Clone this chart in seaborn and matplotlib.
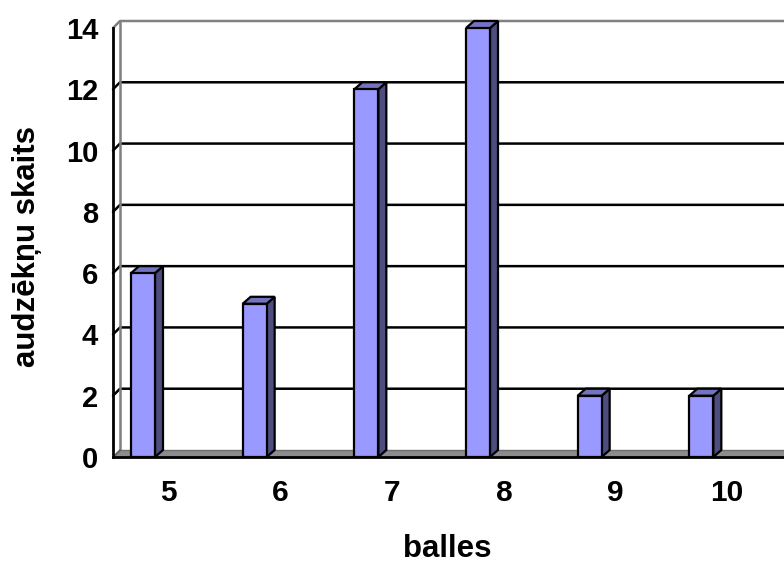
import matplotlib
matplotlib.use("Agg")
import matplotlib.pyplot as plt
from matplotlib.patches import Polygon
from matplotlib.lines import Line2D
import seaborn as sns
import pandas as pd

# ---- data ----
categories = ["5", "6", "7", "8", "9", "10"]
counts = [6, 5, 12, 14, 2, 2]
y_ticks = [0, 2, 4, 6, 8, 10, 12, 14]
x_label = "balles"
y_label = "audzēkņu skaits"

sns.set_style("white")
plt.rcParams['font.family'] = ['Liberation Sans', 'DejaVu Sans']
plt.rcParams['text.color'] = 'black'
plt.rcParams['axes.labelcolor'] = 'black'
plt.rcParams['xtick.color'] = 'black'
plt.rcParams['ytick.color'] = 'black'

FRONT = "#9999FF"
SIDE = "#4D4D80"
TOP = "#7373BF"

W, H = 784, 565
fig = plt.figure(figsize=(W / 100, H / 100), dpi=100)
ax_l, ax_r, ax_t, ax_b = 113, 783, 28, 457
ax = fig.add_axes([ax_l / W, (H - ax_b) / H, (ax_r - ax_l) / W, (ax_b - ax_t) / H])

n = len(categories)
ymax = y_ticks[-1]
px_x = (ax_r - ax_l) / n          # pixels per x data unit
px_y = (ax_b - ax_t) / ymax       # pixels per y data unit

# depth offsets (pixels -> data units)
wdx, wdy = 7 / px_x, 7 / px_y     # walls
bdx, bdy = 8 / px_x, 7 / px_y     # bars

df = pd.DataFrame({"balles": categories, "count": counts})
sns.barplot(data=df, x="balles", y="count", color=FRONT, saturation=1,
            width=24 / px_x, edgecolor="black", linewidth=1.6, ax=ax, zorder=6)

shift = (30 - px_x / 2) / px_x
x0, x1 = -0.5, n - 0.5
ax.set_xlim(x0, x1)
ax.set_ylim(0, ymax)

# floor
floor = Polygon([(x0, 0), (x1 + wdx, 0), (x1 + wdx, wdy), (x0 + wdx, wdy)],
                closed=True, facecolor="#8C8C8C", edgecolor="#707070",
                linewidth=1.0, zorder=2, clip_on=False)
ax.add_patch(floor)

# back wall grid lines
for v in y_ticks[1:]:
    col = "#808080" if v == ymax else "black"
    ax.add_line(Line2D([x0, x0 + wdx, x1 + 2 * wdx], [v, v + wdy, v + wdy],
                       color=col, linewidth=1.8, zorder=1, clip_on=False))
# left wall back edge
ax.add_line(Line2D([x0 + wdx, x0 + wdx], [wdy, ymax + wdy], color="#808080",
                   linewidth=1.8, zorder=1, clip_on=False))
ax.add_line(Line2D([x0, x0 + wdx], [0, wdy], color="#606060",
                   linewidth=1.2, zorder=3, clip_on=False))

# 3D faces of bars
for p in ax.patches:
    if p is floor:
        continue
    p.set_x(p.get_x() + shift)
    bx, bw, bh = p.get_x(), p.get_width(), p.get_height()
    side = Polygon([(bx + bw, 0), (bx + bw + bdx, bdy), (bx + bw + bdx, bh + bdy), (bx + bw, bh)],
                   closed=True, facecolor=SIDE, edgecolor="black", linewidth=1.6,
                   zorder=5, clip_on=False)
    top = Polygon([(bx, bh), (bx + bw, bh), (bx + bw + bdx, bh + bdy), (bx + bdx, bh + bdy)],
                  closed=True, facecolor=TOP, edgecolor="black", linewidth=1.6,
                  zorder=5, clip_on=False)
    ax.add_patch(side)
    ax.add_patch(top)

# spines
for s in ["top", "right"]:
    ax.spines[s].set_visible(False)
for s in ["left", "bottom"]:
    ax.spines[s].set_color("black")
    ax.spines[s].set_linewidth(2)
    ax.spines[s].set_zorder(7)

# ticks
ax.set_yticks(y_ticks)
ax.set_yticklabels([str(v) for v in y_ticks], fontsize=21, fontweight="bold", color="black")
ax.tick_params(axis="y", direction="out", length=7.2, width=1.5, pad=3.6, colors="black")
ax.set_xticks([x0 + i for i in range(n + 1)])
ax.set_xticklabels([])
ax.set_xticks(range(n), minor=True)
ax.set_xticklabels(categories, minor=True, fontsize=21.5, fontweight="bold", color="black")
ax.tick_params(axis="x", which="major", direction="out", length=6, width=1.5, colors="black")
ax.tick_params(axis="x", which="minor", length=0, pad=16)
ax.grid(False)

ax.set_xlabel(x_label, fontsize=22.5, fontweight="bold", color="black")
ax.set_ylabel(y_label, fontsize=22.5, fontweight="bold", color="black")
ax.xaxis.label.set_va("baseline")
ax.xaxis.set_label_coords((447 - ax_l) / (ax_r - ax_l), (ax_b - 557) / (ax_b - ax_t))
ax.yaxis.label.set_va("baseline")
ax.yaxis.set_label_coords((35 - ax_l) / (ax_r - ax_l), (ax_b - 246.5) / (ax_b - ax_t))

fig.savefig("out.png", dpi=100)
